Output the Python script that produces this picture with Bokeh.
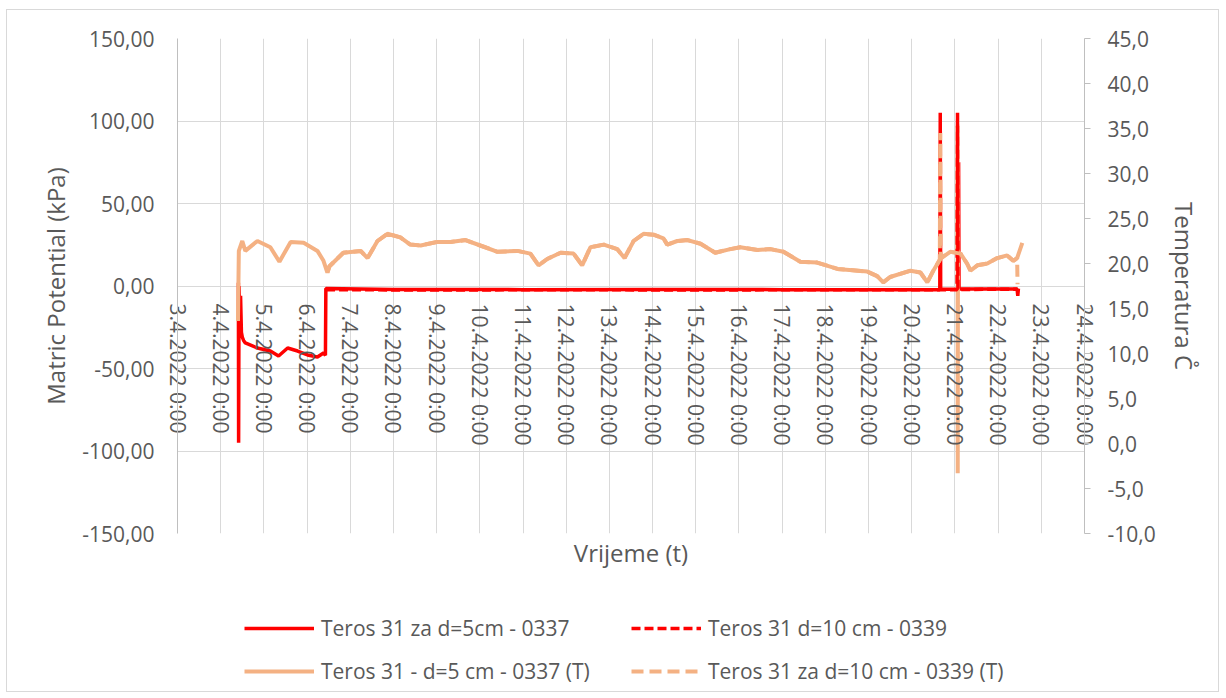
import numpy as np
import pandas as pd
from bokeh.plotting import figure
from bokeh.layouts import column
from bokeh.models import (Range1d, LinearAxis, FixedTicker, Legend, LegendItem, Title)
from bokeh.embed import file_html
from bokeh.resources import INLINE

# ---------------- data ----------------
START = "2022-04-03 00:00"
# x tick labels (one per day, 3.4.2022 .. 24.4.2022)
tick_days = list(range(0, 22))
tick_labels = ["3.4.2022 0:00", "4.4.2022 0:00", "5.4.2022 0:00", "6.4.2022 0:00",
               "7.4.2022 0:00", "8.4.2022 0:00", "9.4.2022 0:00", "10.4.2022 0:00",
               "11.4.2022 0:00", "12.4.2022 0:00", "13.4.2022 0:00", "14.4.2022 0:00",
               "15.4.2022 0:00", "16.4.2022 0:00", "17.4.2022 0:00", "18.4.2022 0:00",
               "19.4.2022 0:00", "20.4.2022 0:00", "21.4.2022 0:00", "22.4.2022 0:00",
               "23.4.2022 0:00", "24.4.2022 0:00"]
left_ticks = [-150, -100, -50, 0, 50, 100, 150]
left_labels = ["-150,00", "-100,00", "-50,00", "0,00", "50,00", "100,00", "150,00"]
right_ticks = [-10, -5, 0, 5, 10, 15, 20, 25, 30, 35, 40, 45]
right_labels = ["-10,0", "-5,0", "0,0", "5,0", "10,0", "15,0", "20,0", "25,0",
                "30,0", "35,0", "40,0", "45,0"]
series_names = ["Teros 31 za d=5cm - 0337", "Teros 31 d=10 cm - 0339",
                "Teros 31 - d=5 cm - 0337 (T)", "Teros 31 za d=10 cm - 0339 (T)"]

# Teros 31 za d=5cm - 0337 (kPa), time in days since 3.4.2022 0:00
mp1_days = [1.410, 1.415, 1.425, 1.440, 1.460, 1.480, 1.500, 1.530, 1.570, 1.850,
            2.150, 2.340, 2.550, 2.780, 3.010, 3.240, 3.380, 3.425, 3.435, 5.00,
            8.00, 11.00, 14.00, 17.00, 17.650, 17.660, 17.670, 18.075, 18.085,
            18.095, 19.00, 19.440, 19.455, 19.470]
mp1_vals = [2.0, -95.0, 0.0, -20.0, -6.0, -28.0, -31.0, -33.0, -34.5, -37.6,
            -39.4, -42.4, -37.6, -39.4, -41.8, -43.0, -40.6, -42.0, -1.5, -2.1,
            -2.2, -2.1, -2.2, -2.2, -2.2, 105.0, -2.0, -2.0, 75.0,
            -1.8, -1.8, -1.8, -6.0, -1.5]

# Teros 31 d=10 cm - 0339 (kPa)
mp2_days = [3.440, 6.00, 9.00, 12.00, 15.00, 18.050, 18.060, 18.070, 19.00, 19.450]
mp2_vals = [-2.3, -2.4, -2.3, -2.4, -2.3, -2.3, 105.0, -2.1, -2.0, -2.0]

# Teros 31 - d=5 cm - 0337 (T) (deg C)
t1_days = [1.400, 1.420, 1.500, 1.570, 1.850, 2.150, 2.360, 2.620, 2.920, 3.240,
           3.380, 3.470, 3.520, 3.840, 4.240, 4.400, 4.630, 4.860, 5.160, 5.390,
           5.630, 6.020, 6.320, 6.670, 7.010, 7.410, 7.870, 8.170, 8.360, 8.560,
           8.870, 9.170, 9.370, 9.560, 9.870, 10.180, 10.350, 10.560, 10.790, 11.020,
           11.250, 11.340, 11.570, 11.810, 12.110, 12.450, 12.800, 13.030, 13.430, 13.730,
           14.030, 14.420, 14.810, 15.280, 15.970, 16.200, 16.340, 16.500, 16.970, 17.200,
           17.360, 17.500, 17.660, 17.890, 18.050, 18.060, 18.065, 18.070, 18.130, 18.280,
           18.360, 18.520, 18.750, 18.980, 19.210, 19.350, 19.440, 19.560]
t1_vals = [13.6, 21.4, 22.5, 21.4, 22.5, 21.8, 20.2, 22.4, 22.3, 21.4,
           20.3, 19.0, 19.7, 21.2, 21.4, 20.6, 22.5, 23.3, 22.9, 22.1,
           22.0, 22.4, 22.4, 22.6, 22.0, 21.3, 21.4, 21.1, 19.8, 20.5,
           21.2, 21.1, 19.8, 21.8, 22.1, 21.6, 20.6, 22.5, 23.3, 23.2,
           22.8, 22.1, 22.5, 22.6, 22.2, 21.2, 21.6, 21.8, 21.5, 21.6,
           21.3, 20.2, 20.1, 19.4, 19.1, 18.6, 17.9, 18.5, 19.2, 19.0,
           17.9, 19.2, 20.5, 21.3, 21.2, 35.3, -3.3, 21.1, 21.1, 20.0,
           19.2, 19.8, 20.0, 20.6, 20.9, 20.3, 20.6, 22.3]

# Teros 31 za d=10 cm - 0339 (T) (deg C)
t2_days = [3.470, 3.520, 3.840, 4.240, 4.400, 4.630, 4.860, 5.160, 5.390, 5.630,
           6.020, 6.320, 6.670, 7.010, 7.410, 7.870, 8.170, 8.360, 8.560, 8.870,
           9.170, 9.370, 9.560, 9.870, 10.180, 10.350, 10.560, 10.790, 11.020, 11.250,
           11.340, 11.570, 11.810, 12.110, 12.450, 12.800, 13.030, 13.430, 13.730, 14.030,
           14.420, 14.810, 15.280, 15.970, 16.200, 16.340, 16.500, 16.970, 17.200, 17.360,
           17.500, 17.650, 17.660, 17.670, 17.890, 18.130, 18.280, 18.360, 18.520, 18.750,
           18.980, 19.210, 19.350, 19.440, 19.450]
t2_vals = [19.0, 19.7, 21.2, 21.4, 20.6, 22.5, 23.3, 22.9, 22.1, 22.0,
           22.4, 22.4, 22.6, 22.0, 21.3, 21.4, 21.1, 19.8, 20.5, 21.2,
           21.1, 19.8, 21.8, 22.1, 21.6, 20.6, 22.5, 23.3, 23.2, 22.8,
           22.1, 22.5, 22.6, 22.2, 21.2, 21.6, 21.8, 21.5, 21.6, 21.3,
           20.2, 20.1, 19.4, 19.1, 18.6, 17.9, 18.5, 19.2, 19.0, 17.9,
           19.2, 20.4, 34.5, 20.6, 21.3, 21.1, 20.0, 19.2, 19.8, 20.0,
           20.6, 20.9, 20.3, 20.6, 17.7]

# ---------------- helpers ----------------
t0 = pd.Timestamp(START)


def to_time(days):
    return [t0 + pd.Timedelta(days=float(d)) for d in days]


def to_ms(days):
    return [int((t0 + pd.Timedelta(days=float(d))).value // 10**6) for d in days]


FONT = "Open Sans"
TXT = "#595959"
GRID = "#D9D9D9"
AXIS = "#BFBFBF"
RED = "#FF0000"
ORANGE = "#F4B183"
FS = "21px"
FT = "24px"

STY = [dict(line_color=RED, line_width=3.5),
       dict(line_color=RED, line_width=3.5, line_dash="9 4"),
       dict(line_color=ORANGE, line_width=4),
       dict(line_color=ORANGE, line_width=4, line_dash="12 6")]

# ---------------- main chart ----------------
p = figure(width=1211, height=565, output_backend="svg", toolbar_location=None,
           x_axis_type="datetime",
           x_range=Range1d(t0, t0 + pd.Timedelta(days=21)),
           y_range=Range1d(-150, 150),
           frame_width=907, frame_height=495,
           min_border_left=170, min_border_top=28, min_border_right=134,
           min_border_bottom=42,
           background_fill_color="white", border_fill_color="white",
           outline_line_color=None)
p.extra_y_ranges = {"temp": Range1d(-10, 45)}

# x axis: Excel category axis crossing at 0 kPa; its rotated labels hang just
# below the zero line (drawn from the bottom panel so they are not clipped)
x_ticks = to_ms(tick_days)
xa = p.xaxis[0]
xa.ticker = FixedTicker(ticks=x_ticks)
xa.major_label_overrides = {k: v for k, v in zip(x_ticks, tick_labels)}
xa.major_label_orientation = -np.pi / 2
xa.axis_line_color = None
xa.major_tick_line_color = None
xa.minor_tick_line_color = None
xa.major_label_standoff = -271
xa.major_label_text_font = FONT
xa.major_label_text_font_size = FS
xa.major_label_text_color = TXT

p.xgrid.ticker = FixedTicker(ticks=x_ticks)
p.xgrid.grid_line_color = GRID
p.ygrid.grid_line_color = GRID

# left axis
ya = p.yaxis[0]
ya.ticker = FixedTicker(ticks=left_ticks)
ya.major_label_overrides = {k: v for k, v in zip(left_ticks, left_labels)}
ya.axis_label = "Matric Potential (kPa)"
ya.axis_line_color = AXIS
ya.major_tick_line_color = None
ya.minor_tick_line_color = None
ya.major_label_standoff = 17
ya.axis_label_standoff = 7
ya.major_label_text_font = FONT
ya.major_label_text_font_size = FS
ya.major_label_text_color = TXT
ya.axis_label_text_font = FONT
ya.axis_label_text_font_size = FT
ya.axis_label_text_color = TXT
ya.axis_label_text_font_style = "normal"

# right axis
ra = LinearAxis(y_range_name="temp", ticker=FixedTicker(ticks=right_ticks),
                major_label_overrides={k: v for k, v in zip(right_ticks, right_labels)},
                axis_label="Temperatura C\u030a",
                axis_line_color=AXIS, major_tick_line_color=AXIS,
                major_tick_in=0, major_tick_out=6, minor_tick_line_color=None,
                major_label_standoff=17, axis_label_standoff=9,
                major_label_text_font=FONT, major_label_text_font_size=FS,
                major_label_text_color=TXT, axis_label_text_font=FONT,
                axis_label_text_font_size=FT, axis_label_text_color=TXT,
                axis_label_text_font_style="normal")
p.add_layout(ra, "right")

# x title, placed right under the frame (before the date axis)
xtitle = Title(text="Vrijeme (t)", align="center", text_font=FONT,
               text_font_size=FT, text_color=TXT, text_font_style="normal",
               standoff=0, offset=0)
p.below = [xtitle, xa]

# series (drawing order: solid red, solid orange, dashed red, dashed orange)
p.line(to_time(mp1_days), mp1_vals, **STY[0])
p.line(to_time(t1_days), t1_vals, y_range_name="temp", **STY[2])
p.line(to_time(mp2_days), mp2_vals, **STY[1])
p.line(to_time(t2_days), t2_vals, y_range_name="temp", **STY[3])

# ---------------- legend strip (frame aligned with the chart frame) ----------------
p2 = figure(width=1211, height=116, output_backend="svg", toolbar_location=None,
            x_axis_location=None, y_axis_location=None,
            x_range=Range1d(0, 1), y_range=Range1d(0, 1),
            min_border=0, outline_line_color=None,
            background_fill_color="white", border_fill_color="white")
p2.grid.visible = False
items = []
for name, sty in zip(series_names, STY):
    rr = p2.line(x=[np.nan], y=[np.nan], **sty)
    items.append(LegendItem(label=name, renderers=[rr]))

legend = Legend(items=items, ncols=2, orientation="horizontal", location=(67, 6),
                glyph_width=70, glyph_height=20, label_height=20, label_width=295,
                label_standoff=7, spacing=15, padding=0, margin=0,
                border_line_color=None, background_fill_alpha=0,
                label_text_font=FONT, label_text_font_size=FS, label_text_color=TXT)
p2.add_layout(legend, "center")

layout = column(p, p2, spacing=0,
                styles={"border": "1px solid #D9D9D9", "margin-left": "6px",
                        "margin-top": "9px"})

open("out.html", "w").write(file_html(layout, INLINE))
